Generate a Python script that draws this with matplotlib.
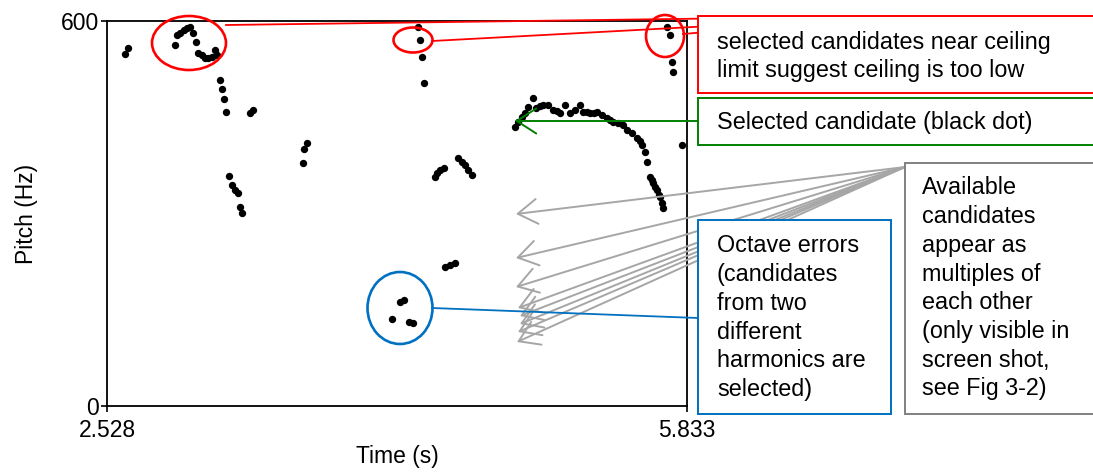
import matplotlib
matplotlib.use("Agg")
import matplotlib.pyplot as plt
from matplotlib.patches import Rectangle, Ellipse, FancyArrowPatch

plt.rcParams['font.family'] = ['Liberation Sans', 'DejaVu Sans']

# Pitch track: selected candidate per frame
time_s = [
    2.631, 2.648,
    2.915, 2.927, 2.944, 2.967, 2.984, 3.001, 3.018, 3.035, 3.047, 3.069,
    3.086, 3.104, 3.126, 3.143, 3.155,
    3.172, 3.183, 3.195, 3.206,
    3.343, 3.360,
    3.223, 3.240, 3.257, 3.274, 3.286, 3.297,
    3.645, 3.651, 3.668,
    4.300, 4.312, 4.323, 4.334,
    4.397, 4.408, 4.425, 4.448,
    4.528, 4.551, 4.568, 4.585, 4.608,
    4.454, 4.482, 4.511,
    4.198, 4.220, 4.152, 4.249, 4.272,
    4.853, 4.870, 4.893, 4.910, 4.927, 4.955, 4.972, 4.995, 5.012, 5.041,
    5.069, 5.092, 5.109, 5.138, 5.166, 5.195, 5.223, 5.240, 5.263, 5.280,
    5.303, 5.320, 5.349, 5.377, 5.394, 5.411, 5.440, 5.468, 5.491, 5.519,
    5.548, 5.565, 5.576, 5.594, 5.605, 5.622, 5.633, 5.639, 5.650, 5.662,
    5.673, 5.679, 5.690, 5.696,
    5.804,
    5.719, 5.736, 5.747, 5.753,
]
pitch_hz = [
    548.6, 557.9,
    562.6, 578.2, 581.3, 586.0, 589.1, 590.6, 581.3, 567.3, 550.1, 547.0,
    542.3, 542.3, 543.9, 554.8, 547.0,
    508.0, 494.0, 478.4, 458.2,
    456.6, 461.3,
    358.4, 344.4, 336.6, 331.9, 310.1, 300.8,
    378.7, 400.5, 409.9,
    590.6, 570.4, 543.9, 503.4,
    356.9, 363.1, 367.8, 370.9,
    386.5, 380.2, 375.6, 367.8, 360.0,
    216.6, 219.7, 222.9,
    162.1, 165.2, 135.6, 130.9, 129.3,
    434.8, 442.6, 450.4, 456.6, 466.0, 480.0, 464.4, 467.5, 469.1, 469.1,
    461.3, 459.7, 456.6, 469.1, 456.6, 461.3, 469.1, 458.2, 458.2, 456.6,
    456.6, 458.2, 453.5, 448.8, 445.7, 442.6, 441.0, 437.9, 430.1, 425.4,
    417.7, 413.0, 406.7, 395.8, 380.2, 356.9, 352.2, 347.5, 341.3, 336.6,
    328.8, 325.7, 316.4, 308.6,
    406.7,
    590.6, 578.2, 536.1, 520.5,
]

x_ticks = [2.528, 5.833]
x_tick_labels = ['2.528', '5.833']
y_ticks = [0, 600]
y_tick_labels = ['0', '600']

red_note = ['selected candidates near ceiling', 'limit suggest ceiling is too low']
green_note = 'Selected candidate (black dot)'
blue_note = ['Octave errors', '(candidates', 'from two', 'different',
             'harmonics are', 'selected)']
gray_note = ['Available', 'candidates', 'appear as', 'multiples of',
             'each other', '(only visible in', 'screen shot,', 'see Fig 3-2)']

W, H = 1093, 472
fig = plt.figure(figsize=(W / 100, H / 100), dpi=100)
L, R, T, B = 107, 687, 21, 406
ax = fig.add_axes([L / W, 1 - B / H, (R - L) / W, (B - T) / H])
ax.scatter(time_s, pitch_hz, s=28, color='black', linewidths=0, zorder=3)
ax.set_xlim(x_ticks[0], x_ticks[-1])
ax.set_ylim(y_ticks[0], y_ticks[-1])
ax.set_xticks(x_ticks)
ax.set_xticklabels(x_tick_labels)
ax.set_yticks(y_ticks)
ax.set_yticklabels(y_tick_labels)
ax.tick_params(direction='out', length=4.5, width=1.2, labelsize=16.5,
               colors='black')
ax.tick_params(axis='y', pad=1)
ax.tick_params(axis='x', pad=5)
for sp in ax.spines.values():
    sp.set_linewidth(1.3)
ax.set_xlabel('Time (s)', fontsize=16.5)
ax.set_ylabel('Pitch (Hz)', fontsize=16.5)
ax.xaxis.label.set_va('center')
ax.yaxis.label.set_va('center')
ax.xaxis.set_label_coords(0.5, (B - 456) / (B - T))
ax.yaxis.set_label_coords((26 - L) / (R - L), 0.5)

# Callout layer in figure pixel coordinates (y grows downward)
ov = fig.add_axes([0, 0, 1, 1], zorder=5)
ov.set_xlim(0, W)
ov.set_ylim(H, 0)
ov.axis('off')
ov.patch.set_alpha(0)

RED, GREEN, BLUE, GRAY, LGRAY = '#ff0000', '#008000', '#0070c0', '#808080', '#a6a6a6'
FS = 16.8

def arrow(p0, p1, color):
    ov.add_patch(FancyArrowPatch(p0, p1, arrowstyle='->,head_length=0.7,head_width=0.45',
                                 mutation_scale=20, color=color, lw=1.4,
                                 shrinkA=0, shrinkB=0, zorder=2))

# red: ceiling notes
for (cx, cy, w, h) in [(189, 43, 74, 54), (413, 40, 39, 25), (665, 36, 38, 42)]:
    ov.add_patch(Ellipse((cx, cy), w, h, fill=False, ec=RED, lw=1.9, zorder=3))
for end in [(226, 25), (432, 41), (683, 34)]:
    ov.plot([898, end[0]], [16, end[1]], color=RED, lw=1.3, zorder=3)
ov.add_patch(Rectangle((698, 16), 450, 77, facecolor='white', ec=RED, lw=1.4, zorder=4))
for i, line in enumerate(red_note):
    ov.text(717, 43 + 28 * i, line, fontsize=FS, va='center', ha='left', zorder=6)

# green: selected candidate
arrow((698, 121), (515, 121), GREEN)
ov.add_patch(Rectangle((698, 98), 450, 47, facecolor='white', ec=GREEN, lw=1.4, zorder=4))
ov.text(717, 122, green_note, fontsize=FS, va='center', ha='left', zorder=6)

# gray: available candidates
for tip in [(516, 214), (516, 258), (516, 287), (518, 308), (520, 316),
            (520, 324), (518, 332), (517, 342)]:
    arrow((905, 167), tip, LGRAY)
ov.add_patch(Rectangle((905, 163), 400, 251, facecolor='white', ec=GRAY, lw=1.4, zorder=4))
for i, line in enumerate(gray_note):
    ov.text(922, 188 + 28.7 * i, line, fontsize=FS, va='center', ha='left', zorder=6)

# blue: octave errors
ov.add_patch(Ellipse((400, 308), 65, 72, fill=False, ec=BLUE, lw=1.9, zorder=3))
ov.plot([432, 698], [308, 318], color=BLUE, lw=1.3, zorder=3)
ov.add_patch(Rectangle((698, 220), 193, 194, facecolor='white', ec=BLUE, lw=1.4, zorder=4))
for i, line in enumerate(blue_note):
    ov.text(717, 246 + 28.7 * i, line, fontsize=FS, va='center', ha='left', zorder=6)

fig.savefig('out.png', dpi=100)
